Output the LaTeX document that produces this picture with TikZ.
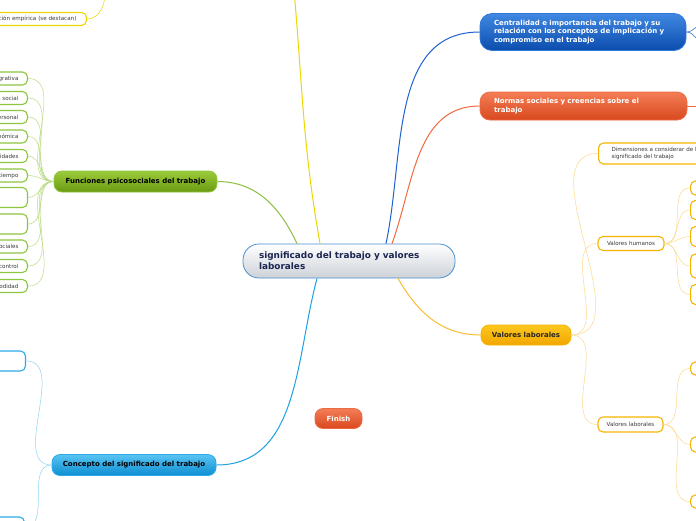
\documentclass[tikz,border=0pt]{standalone}
\usepackage{fontspec}
\setmainfont{DejaVu Sans}
\definecolor{ctrLine}{HTML}{4A90D0}
\definecolor{ctrBot}{HTML}{CDD2D8}
\definecolor{ctrText}{HTML}{1B2550}
\definecolor{grnTop}{HTML}{9CCC3C}
\definecolor{grnBot}{HTML}{6A9A10}
\definecolor{grnLine}{HTML}{8DC63F}
\definecolor{grnLink}{HTML}{8CC040}
\definecolor{grnLeaf}{HTML}{BADC84}
\definecolor{bluTop}{HTML}{4088E2}
\definecolor{bluBot}{HTML}{0B4DAE}
\definecolor{bluLine}{HTML}{2F78DA}
\definecolor{bluLink}{HTML}{1E62D2}
\definecolor{redTop}{HTML}{F37E56}
\definecolor{redBot}{HTML}{D9481E}
\definecolor{redLine}{HTML}{EE6A42}
\definecolor{redLink}{HTML}{F06A40}
\definecolor{ylwTop}{HTML}{FDC81E}
\definecolor{ylwBot}{HTML}{F1A600}
\definecolor{ylwLine}{HTML}{F6B400}
\definecolor{ylwLink}{HTML}{F9BE30}
\definecolor{ylwLeaf}{HTML}{FCD98C}
\definecolor{lemon}{HTML}{ECD800}
\definecolor{cynTop}{HTML}{58C4F2}
\definecolor{cynBot}{HTML}{0E8ED2}
\definecolor{cynLine}{HTML}{2CAAE8}
\definecolor{cynLink}{HTML}{1CA2E2}
\definecolor{cynLeaf}{HTML}{90D4F4}
\definecolor{leafText}{HTML}{3A3A3A}
\begin{document}
\begin{tikzpicture}[x=1pt, y=1pt,
            topic/.style={draw=#1, line width=0.8pt, rounded corners=8pt, minimum height=20pt, inner sep=0pt, font=\fontsize{7}{8.5}\selectfont\bfseries},
            leaf/.style={draw=#1, line width=1.1pt, fill=white, rounded corners=5pt, inner sep=0pt, font=\fontsize{5.6}{6.8}\selectfont, text=leafText},
            link/.style={draw=#1, line width=1pt},
            twig/.style={draw=#1, line width=0.5pt}]
            \useasboundingbox (0,0) rectangle (696,-520);
            \clip (0,0) rectangle (696,-520);
            \fill[white] (0,0) rectangle (696,-520);

            \node[draw=ctrLine, line width=0.8pt, top color=white, bottom color=ctrBot, rounded corners=16pt, minimum height=34pt, text width=180pt, inner xsep=16pt, align=left, font=\fontsize{8.9}{11}\selectfont\bfseries, text=ctrText] (sig) at (349,-261) {significado del trabajo y valores\\laborales};

            \node[topic=grnLine, top color=grnTop, bottom color=grnBot, minimum width=163pt, minimum height=21pt] (fun) at (135.5,-181.5) {Funciones psicosociales del trabajo};
            \node[topic=bluLine, top color=bluTop, bottom color=bluBot, text=white, text width=178pt, inner xsep=14pt, align=left, minimum height=37pt, rounded corners=12pt] (cen) at (583,-32) {Centralidad e importancia del trabajo y su\\relación con los conceptos de implicación y\\compromiso en el trabajo};
            \node[topic=redLine, top color=redTop, bottom color=redBot, text=white, text width=179pt, inner xsep=14pt, align=left, minimum height=28pt, rounded corners=10pt] (nor) at (583.5,-106) {Normas sociales y creencias sobre el\\trabajo};
            \node[topic=ylwLine, top color=ylwTop, bottom color=ylwBot, text=black!85, minimum width=90pt] (val) at (526,-335) {Valores laborales};
            \node[topic=cynLine, top color=cynTop, bottom color=cynBot, minimum width=164pt, minimum height=21pt] (con) at (134,-465) {Concepto del significado del trabajo};
            \node[topic=redLine, top color=redTop, bottom color=redBot, text=white, minimum width=47pt] (fin) at (338.5,-418.5) {Finish};

            \node[leaf=lemon, anchor=east, text width=110pt, align=right, inner xsep=10pt, minimum height=13pt] (emp) at (87,-19) {ación empírica (se destacan)};
            \coordinate (ytop) at (294,10);
            \coordinate (etop) at (106,10);

            \node[leaf=ylwLine, anchor=west, text width=130pt, inner xsep=13pt, align=left, minimum height=21pt] (dim) at (598,-153.5) {Dimensiones a considerar de lo\\significado del trabajo};
            \node[leaf=ylwLine, minimum width=66pt, minimum height=14pt] (hum) at (631,-243.5) {Valores humanos};
            \node[leaf=ylwLine, minimum width=65pt, minimum height=15pt] (lab) at (630.5,-424.5) {Valores laborales};

            \node[leaf=cynLine, anchor=east, minimum width=80pt, minimum height=20pt] (cc1) at (26,-361) {};
            \node[leaf=cynLine, anchor=east, minimum width=80pt, minimum height=20pt] (cc2) at (25,-527) {};

            \coordinate (cs1) at (704,-24);
            \coordinate (cs2) at (704,-42);
            \coordinate (ns) at (704,-106);

            \foreach \y/\h/\t [count=\i] in {78.5/13/grativa, 98/13/n social, 117/13/ersonal, 136.5/13/nómica, 156/13/idades, 175.5/13/tiempo, 197.5/20/{}, 224/20/{}, 246.5/13/ociales, 266/13/control, 286/13/odidad}
            {
                \node[leaf=grnLine, anchor=east, minimum height=\h pt, text width=70pt, align=right, inner xsep=9pt] (fn\i) at (28,-\y) {\t};
                \draw[twig=grnLeaf] (fn\i.east) to[out=0,in=180] (fun.west);
            }
            \foreach \y/\h [count=\i] in {188/14, 210/19, 236.5/20, 266/24, 294.5/20}
            {
                \node[leaf=ylwLine, anchor=west, minimum width=60pt, minimum height=\h pt] (hv\i) at (690,-\y) {};
                \draw[twig=ylwLeaf] (hum.east) to[out=0,in=180] (hv\i.west);
            }
            \foreach \y/\h [count=\i] in {368.5/13, 444.5/15, 501.5/13}
            {
                \node[leaf=ylwLine, anchor=west, minimum width=60pt, minimum height=\h pt] (lv\i) at (690,-\y) {};
                \draw[twig=ylwLeaf] (lab.east) to[out=0,in=180] (lv\i.west);
            }

            \draw[link=grnLink] ([xshift=-52pt]sig.north) to[out=115,in=0] (fun.east);
            \draw[link=lemon] ([xshift=-29pt]sig.north) to[out=100,in=-85] (ytop);
            \draw[link=bluLink] ([xshift=37pt]sig.north) to[out=78,in=180] (cen.west);
            \draw[link=redLink] ([xshift=43pt]sig.north) to[out=70,in=180] (nor.west);
            \draw[link=ylwLink] ([xshift=49pt]sig.south) to[out=-60,in=180] (val.west);
            \draw[link=cynLink] ([xshift=-32pt]sig.south) to[out=-105,in=0] (con.east);

            \draw[twig=ylwLeaf] (val.east) to[out=0,in=180] (dim.west);
            \draw[twig=ylwLeaf] (val.east) to[out=0,in=180] (hum.west);
            \draw[twig=ylwLeaf] (val.east) to[out=0,in=180] (lab.west);
            \draw[twig=lemon] (emp.east) to[out=0,in=-95] (etop);
            \draw[twig=cynLeaf] (con.west) to[out=180,in=0] (cc1.east);
            \draw[twig=cynLeaf] (con.west) to[out=180,in=0] (cc2.east);
            \draw[twig=bluLink] (cen.east) to[out=0,in=180] (cs1);
            \draw[twig=bluLink] (cen.east) to[out=0,in=180] (cs2);
            \draw[twig=redLink] (nor.east) -- (ns);
        \end{tikzpicture}
\end{document}
